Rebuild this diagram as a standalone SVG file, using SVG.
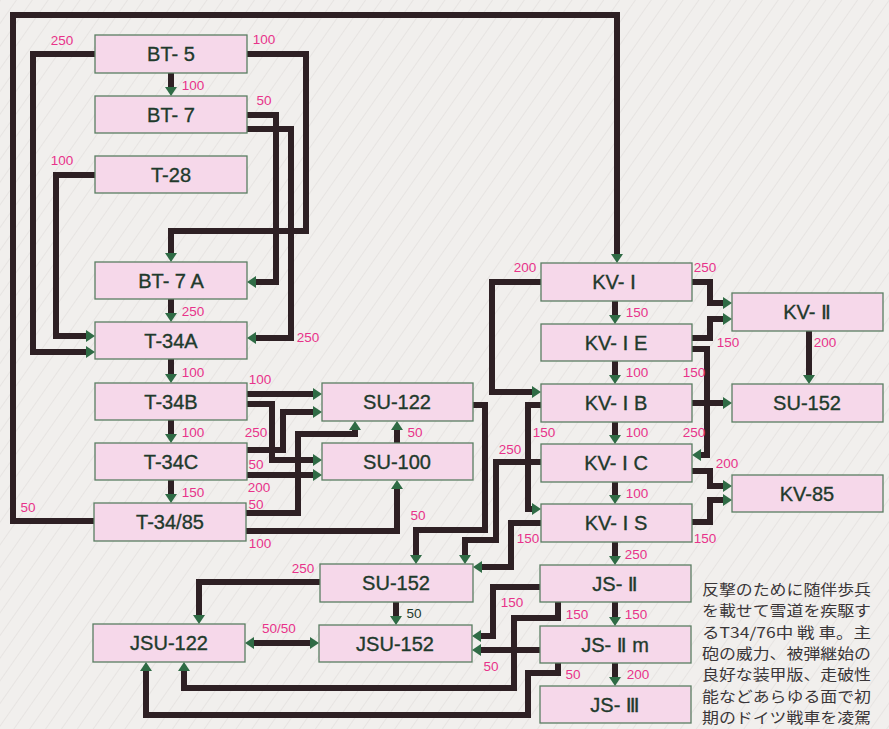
<svg xmlns="http://www.w3.org/2000/svg" width="889" height="729" viewBox="0 0 889 729">
<style>
.box{fill:#f6d8ea;stroke:#5a7d62;stroke-width:1.3}
.nt{font-family:"Liberation Sans","DejaVu Sans",sans-serif;font-size:20px;fill:#1f3a2c;stroke:#1f3a2c;stroke-width:0.35;text-anchor:middle}
.ln{fill:none;stroke:#2e2024;stroke-width:6;stroke-linejoin:miter;stroke-linecap:butt;marker-end:url(#ah)}
.ln0{fill:none;stroke:#2e2024;stroke-width:6;stroke-linejoin:miter}
.lb{font-family:"Liberation Sans","DejaVu Sans",sans-serif;font-size:13.5px;fill:#e8338a;text-anchor:middle}
.jp{font-family:"Noto Sans CJK JP",sans-serif;font-size:14.6px;fill:#3a3638}
</style>
<defs>
<pattern id="hatch" width="13" height="13" patternUnits="userSpaceOnUse" patternTransform="rotate(35)">
<line x1="0" y1="0" x2="0" y2="13" stroke="#dedad8" stroke-width="1.1"/>
</pattern>
<marker id="ah" markerUnits="userSpaceOnUse" markerWidth="9" markerHeight="12" refX="0" refY="6" orient="auto" overflow="visible">
<path d="M0,0 L9,6 L0,12 z" fill="#2f6b45"/>
</marker>
<marker id="ah2" markerUnits="userSpaceOnUse" markerWidth="9" markerHeight="12" refX="0" refY="6" orient="auto-start-reverse" overflow="visible">
<path d="M0,0 L9,6 L0,12 z" fill="#2f6b45"/>
</marker>
</defs>
<rect x="0" y="0" width="889" height="729" fill="#f1efed"/>
<rect x="0" y="0" width="889" height="729" fill="url(#hatch)"/>

<g id="connectors">
<path class="ln" d="M94,521 H13 V15 H617 V254"/>
<path class="ln" d="M95,54 H33 V352 H86"/>
<path class="ln" d="M95,175 H56 V336 H86"/>
<path class="ln" d="M247,54 H306 V231 H171 V253"/>
<path class="ln" d="M247,115 H276 V282 H256"/>
<path class="ln" d="M247,129 H291 V338 H256"/>
<path class="ln" d="M171,73 V87"/>
<path class="ln" d="M171,299 V313"/>
<path class="ln" d="M171,359 V374"/>
<path class="ln" d="M171,420 V434"/>
<path class="ln" d="M171,480 V494"/>
<path class="ln" d="M247,394 H313"/>
<path class="ln" d="M247,404 H272 V460 H313"/>
<path class="ln" d="M247,450 H283 V412 H313"/>
<path class="ln" d="M247,475 H313"/>
<path class="ln" d="M246,513 H298 V434 H355 V430"/>
<path class="ln" d="M246,531 H397 V489"/>
<path class="ln" d="M397,443 V430"/>
<path class="ln" d="M473,405 H485 V530 H416 V555"/>
<path class="ln" d="M541,462 H496 V540 H465 V555"/>
<path class="ln" d="M541,523 H511 V567 H482"/>
<path class="ln" d="M541,282 H492 V392 H532"/>
<path class="ln" d="M541,405 H528 V509 H532"/>
<path class="ln" d="M615,301 V315"/>
<path class="ln" d="M615,361 V375"/>
<path class="ln" d="M615,422 V435"/>
<path class="ln" d="M615,482 V495"/>
<path class="ln" d="M615,542 V556"/>
<path class="ln" d="M615,602 V617"/>
<path class="ln" d="M615,663 V677"/>
<path class="ln" d="M692,282 H710 V303 H723"/>
<path class="ln" d="M692,338 H710 V319 H723"/>
<path class="ln" d="M692,349 H707 V455 H701"/>
<path class="ln" d="M692,403 H723"/>
<path class="ln" d="M809,331 V375"/>
<path class="ln" d="M692,471 H710 V486 H723"/>
<path class="ln" d="M692,522 H710 V500 H723"/>
<path class="ln" d="M320,582 H199 V615"/>
<path class="ln" d="M396,602 V616"/>
<path class="ln0" d="M254,643 H310" marker-start="url(#ah2)" marker-end="url(#ah2)"/>
<path class="ln" d="M540,587 H493 V636 H481"/>
<path class="ln" d="M540,650 H481"/>
<path class="ln" d="M558,602 V618 H514 V688 H184 V671"/>
<path class="ln" d="M558,663 V673 H528 V715 H146 V671"/>
</g>

<g id="n-bt5"><rect class="box" x="95" y="35" width="152" height="38"/><text class="nt" x="171" y="61">BT- 5</text></g>
<g id="n-bt7"><rect class="box" x="95" y="96" width="152" height="37"/><text class="nt" x="171" y="122">BT- 7</text></g>
<g id="n-t28"><rect class="box" x="95" y="156" width="152" height="37"/><text class="nt" x="171" y="182">T-28</text></g>
<g id="n-bt7a"><rect class="box" x="95" y="262" width="152" height="37"/><text class="nt" x="171" y="288">BT- 7 A</text></g>
<g id="n-t34a"><rect class="box" x="95" y="322" width="152" height="37"/><text class="nt" x="171" y="348">T-34A</text></g>
<g id="n-t34b"><rect class="box" x="95" y="383" width="152" height="37"/><text class="nt" x="171" y="409">T-34B</text></g>
<g id="n-t34c"><rect class="box" x="95" y="443" width="152" height="37"/><text class="nt" x="171" y="469">T-34C</text></g>
<g id="n-t3485"><rect class="box" x="94" y="503" width="152" height="38"/><text class="nt" x="170" y="529">T-34/85</text></g>
<g id="n-su122"><rect class="box" x="322" y="383" width="151" height="38"/><text class="nt" x="397" y="409">SU-122</text></g>
<g id="n-su100"><rect class="box" x="322" y="443" width="151" height="37"/><text class="nt" x="397" y="469">SU-100</text></g>
<g id="n-kv1"><rect class="box" x="541" y="263" width="151" height="38"/><text class="nt" x="614" y="289">KV- Ⅰ</text></g>
<g id="n-kv1e"><rect class="box" x="541" y="324" width="151" height="37"/><text class="nt" x="616" y="350">KV- Ⅰ E</text></g>
<g id="n-kv1b"><rect class="box" x="541" y="384" width="151" height="38"/><text class="nt" x="616" y="410">KV- Ⅰ B</text></g>
<g id="n-kv1c"><rect class="box" x="541" y="444" width="151" height="38"/><text class="nt" x="616" y="470">KV- Ⅰ C</text></g>
<g id="n-kv1s"><rect class="box" x="541" y="504" width="151" height="38"/><text class="nt" x="616" y="530">KV- Ⅰ S</text></g>
<g id="n-kv2"><rect class="box" x="732" y="293" width="151" height="38"/><text class="nt" x="807" y="319">KV- Ⅱ</text></g>
<g id="n-su152r"><rect class="box" x="732" y="384" width="151" height="38"/><text class="nt" x="807" y="410">SU-152</text></g>
<g id="n-kv85"><rect class="box" x="732" y="475" width="151" height="37"/><text class="nt" x="807" y="501">KV-85</text></g>
<g id="n-su152l"><rect class="box" x="320" y="564" width="153" height="38"/><text class="nt" x="396" y="590">SU-152</text></g>
<g id="n-jsu122"><rect class="box" x="93" y="624" width="152" height="38"/><text class="nt" x="169" y="650">JSU-122</text></g>
<g id="n-jsu152"><rect class="box" x="319" y="625" width="153" height="37"/><text class="nt" x="395" y="651">JSU-152</text></g>
<g id="n-js2"><rect class="box" x="540" y="565" width="151" height="37"/><text class="nt" x="615" y="591">JS- Ⅱ</text></g>
<g id="n-js2m"><rect class="box" x="540" y="626" width="151" height="37"/><text class="nt" x="615" y="652">JS- Ⅱ m</text></g>
<g id="n-js3"><rect class="box" x="540" y="686" width="151" height="37"/><text class="nt" x="615" y="712">JS- Ⅲ</text></g>

<g id="labels">
<text class="lb" x="62" y="45">250</text>
<text class="lb" x="264" y="44">100</text>
<text class="lb" x="193" y="90">100</text>
<text class="lb" x="264" y="105">50</text>
<text class="lb" x="62" y="165">100</text>
<text class="lb" x="193" y="316">250</text>
<text class="lb" x="308" y="342">250</text>
<text class="lb" x="193" y="377">100</text>
<text class="lb" x="260" y="384">100</text>
<text class="lb" x="256" y="437">250</text>
<text class="lb" x="193" y="437">100</text>
<text class="lb" x="256" y="469">50</text>
<text class="lb" x="259" y="492">200</text>
<text class="lb" x="193" y="497">150</text>
<text class="lb" x="256" y="509">50</text>
<text class="lb" x="28" y="512">50</text>
<text class="lb" x="260" y="548">100</text>
<text class="lb" x="415" y="437">50</text>
<text class="lb" x="418" y="520">50</text>
<text class="lb" x="525" y="272">200</text>
<text class="lb" x="705" y="272">250</text>
<text class="lb" x="637" y="317">150</text>
<text class="lb" x="728" y="347">150</text>
<text class="lb" x="825" y="347">200</text>
<text class="lb" x="637" y="377">100</text>
<text class="lb" x="694" y="377">150</text>
<text class="lb" x="544" y="437">150</text>
<text class="lb" x="637" y="437">100</text>
<text class="lb" x="694" y="437">250</text>
<text class="lb" x="510" y="454">250</text>
<text class="lb" x="727" y="468">200</text>
<text class="lb" x="637" y="498">100</text>
<text class="lb" x="528" y="543">150</text>
<text class="lb" x="705" y="543">150</text>
<text class="lb" x="636" y="559">250</text>
<text class="lb" x="303" y="573">250</text>
<text class="lb" x="512" y="607">150</text>
<text class="lb" x="577" y="619">150</text>
<text class="lb" x="636" y="619">150</text>
<text class="lb" x="414" y="618" style="fill:#1f3a2c">50</text>
<text class="lb" x="279" y="633">50/50</text>
<text class="lb" x="491" y="671">50</text>
<text class="lb" x="573" y="679">50</text>
<text class="lb" x="638" y="679">200</text>
</g>

<g id="caption">
<text class="jp"><tspan x="702" y="595" textLength="169" lengthAdjust="spacingAndGlyphs">反撃のために随伴歩兵</tspan><tspan x="702" y="616.3" textLength="169" lengthAdjust="spacingAndGlyphs">を載せて雪道を疾駆す</tspan><tspan x="702" y="637.6" textLength="169" lengthAdjust="spacingAndGlyphs">るT34/76中 戦 車。主</tspan><tspan x="702" y="658.9" textLength="169" lengthAdjust="spacingAndGlyphs">砲の威力、被弾継始の</tspan><tspan x="702" y="680.2" textLength="169" lengthAdjust="spacingAndGlyphs">良好な装甲版、走破性</tspan><tspan x="702" y="701.5" textLength="169" lengthAdjust="spacingAndGlyphs">能などあらゆる面で初</tspan><tspan x="702" y="722.8" textLength="169" lengthAdjust="spacingAndGlyphs">期のドイツ戦車を凌駕</tspan></text>
</g>
</svg>
